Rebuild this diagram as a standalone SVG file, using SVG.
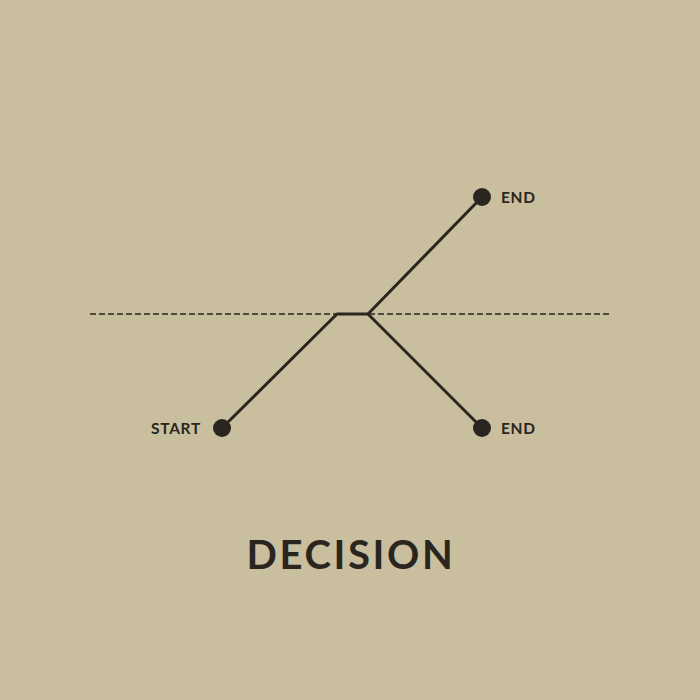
<svg xmlns="http://www.w3.org/2000/svg" width="700" height="700" viewBox="0 0 700 700">
<style>
.lbl{font-family:"Lato","Liberation Sans",sans-serif;font-weight:700;fill:#2a261f;}
.ln{stroke:#2a261f;stroke-width:3;fill:none;stroke-linecap:round;stroke-linejoin:round;}
.dot{fill:#2a261f;}
</style>
<rect width="700" height="700" fill="#c9bf9e"/>
<g id="connectors">
<line x1="90" y1="314" x2="610" y2="314" stroke="#2a261f" stroke-width="1.5" stroke-dasharray="6,3"/>
<polyline class="ln" points="222,428 337,314 368,314 482,197"/>
<line class="ln" x1="368" y1="314" x2="482" y2="428"/>
</g>
<g id="start"><circle class="dot" cx="222" cy="428" r="9"/><text class="lbl" x="201" y="433.5" font-size="15.5" text-anchor="end" letter-spacing="0.7">START</text></g>
<g id="end-top"><circle class="dot" cx="482" cy="197" r="9"/><text class="lbl" x="501" y="203" font-size="15.5" letter-spacing="0.7">END</text></g>
<g id="end-bottom"><circle class="dot" cx="482" cy="428" r="9"/><text class="lbl" x="501" y="433.5" font-size="15.5" letter-spacing="0.7">END</text></g>
<g id="title"><text class="lbl" x="351" y="569" font-size="40" text-anchor="middle" letter-spacing="2.6">DECISION</text></g>
</svg>
